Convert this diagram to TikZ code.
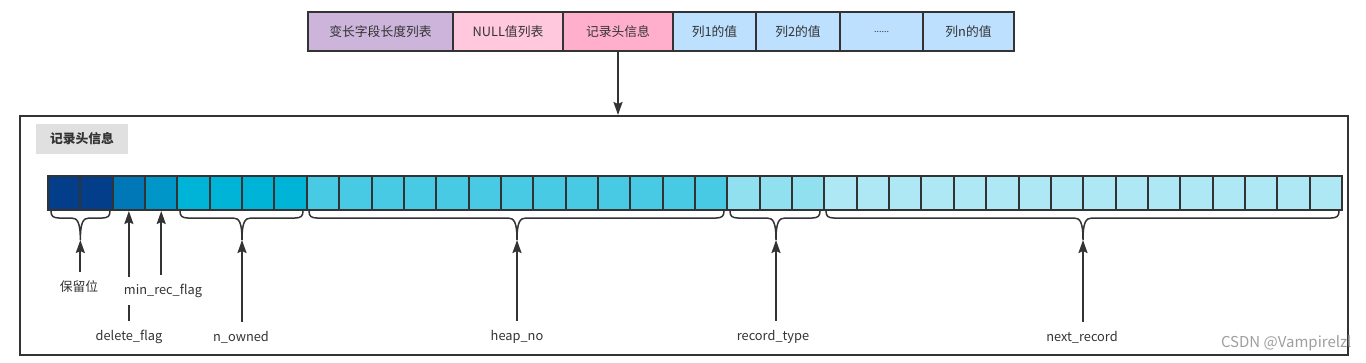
\documentclass[tikz,border=0pt]{standalone}
\usepackage{fontspec}
\setmainfont{Noto Sans CJK SC}
\usetikzlibrary{arrows.meta}
\definecolor{ink}{HTML}{333333}
\definecolor{cpurple}{HTML}{CDB4DB}
\definecolor{cpink}{HTML}{FFC8DD}
\definecolor{cpinkd}{HTML}{FFAFCC}
\definecolor{cblue}{HTML}{BDE0FE}
\definecolor{ra}{HTML}{023E8A}
\definecolor{rb}{HTML}{0077B6}
\definecolor{rc}{HTML}{0096C7}
\definecolor{rd}{HTML}{00B4D8}
\definecolor{re}{HTML}{48CAE4}
\definecolor{rf}{HTML}{90E0EF}
\definecolor{rg}{HTML}{ADE8F4}
\definecolor{hdrgray}{HTML}{E0E0E0}
\newcommand{\bitbrace}[4]{% x1, x2, xm, name
  \draw[bracestyle] (#1,211) .. controls (#1,216) and (#1+2,218) .. (#1+8,218)
    -- (#3-9,218) .. controls (#3-3,218) and (#3,222) .. (#3,240)
    .. controls (#3,222) and (#3+3,218) .. (#3+9,218)
    -- (#2-8,218) .. controls (#2-2,218) and (#2,216) .. (#2,211);
  \coordinate (#4) at (#3,240);
}
\begin{document}
\begin{tikzpicture}[x=1pt,y=-1pt,
  every node/.style={font=\fontsize{12.8}{15}\selectfont, text=ink},
  topcell/.style={draw=ink, line width=2pt, minimum height=39pt, inner sep=0pt},
  bit/.style={draw=ink, line width=2pt, minimum width=32.35pt, minimum height=34pt, inner sep=0pt},
  frame/.style={draw=ink, line width=2pt, minimum width=1328pt, minimum height=239pt, inner sep=0pt},
  bracestyle/.style={draw=ink, line width=1.5pt},
  arr/.style={draw=ink, line width=2pt, -{Stealth[length=13pt,width=9pt,inset=2pt]}},
  lbl/.style={inner sep=3pt}]
\useasboundingbox (0,0) rectangle (1366,362);

% top record layout
\node[topcell, fill=cpurple, minimum width=145pt] (t1) at (380.5,31.5) {变长字段长度列表};
\node[topcell, fill=cpink,   minimum width=110pt] (t2) at (508,31.5) {NULL值列表};
\node[topcell, fill=cpinkd,  minimum width=110pt] (t3) at (618,31.5) {记录头信息};
\node[topcell, fill=cblue,   minimum width=83pt]  (t4) at (714.5,31.5) {列1的值};
\node[topcell, fill=cblue,   minimum width=84pt]  (t5) at (798,31.5) {列2的值};
\node[topcell, fill=cblue,   minimum width=83pt]  (t6) at (881.5,31.5) {\fontsize{9}{10}\selectfont ......};
\node[topcell, fill=cblue,   minimum width=91pt]  (t7) at (968.5,31.5) {列n的值};

% frame
\node[frame] (frame) at (684,235.5) {};
\draw[arr] (t3.south) -- (t3.south |- frame.north);

\node[fill=hdrgray, minimum width=92pt, minimum height=30pt, inner sep=0pt] (hdr) at (82,139) {\bfseries 记录头信息};

% bits
\foreach \a/\b/\c in {0/1/ra,2/2/rb,3/3/rc,4/7/rd,8/20/re,21/23/rf,24/39/rg}
  \foreach \i in {\a,...,\b}
    \node[bit, fill=\c] (b\i) at ({48+32.35*(\i+0.5)},193) {};

% braces
\bitbrace{51}{110}{80.35}{brA}
\bitbrace{180}{303}{242}{brB}
\bitbrace{309}{724}{517}{brC}
\bitbrace{730}{820}{776}{brD}
\bitbrace{826}{1339}{1083}{brE}

% labels and arrows
\node[lbl] (resv) at (79,287) {保留位};
\draw[arr, shorten <=6pt] (resv.north -| brA) -- (brA);

\node[lbl] (del) at (129,337) {delete\_flag};
\draw[arr, shorten <=6pt] (del.north -| b2.south) -- (b2.south);

\node[lbl, fill=white, minimum height=28pt] (minrec) at (163,291) {min\_rec\_flag};
\draw[arr, shorten <=2pt] (minrec.north -| b3.south) -- (b3.south);

\node[lbl] (nown) at (241,337) {n\_owned};
\draw[arr, shorten <=6pt] (nown.north -| brB) -- (brB);

\node[lbl] (heap) at (517,337) {heap\_no};
\draw[arr, shorten <=6pt] (heap.north -| brC) -- (brC);

\node[lbl] (rtype) at (773,337) {record\_type};
\draw[arr, shorten <=6pt] (rtype.north -| brD) -- (brD);

\node[lbl] (nrec) at (1082,337) {next\_record};
\draw[arr, shorten <=6pt] (nrec.north -| brE) -- (brE);

\node[anchor=east, text=black!38, font=\fontsize{15}{17}\selectfont] (wm) at (1355,343) {CSDN @Vampirelzl};
\end{tikzpicture}
\end{document}
